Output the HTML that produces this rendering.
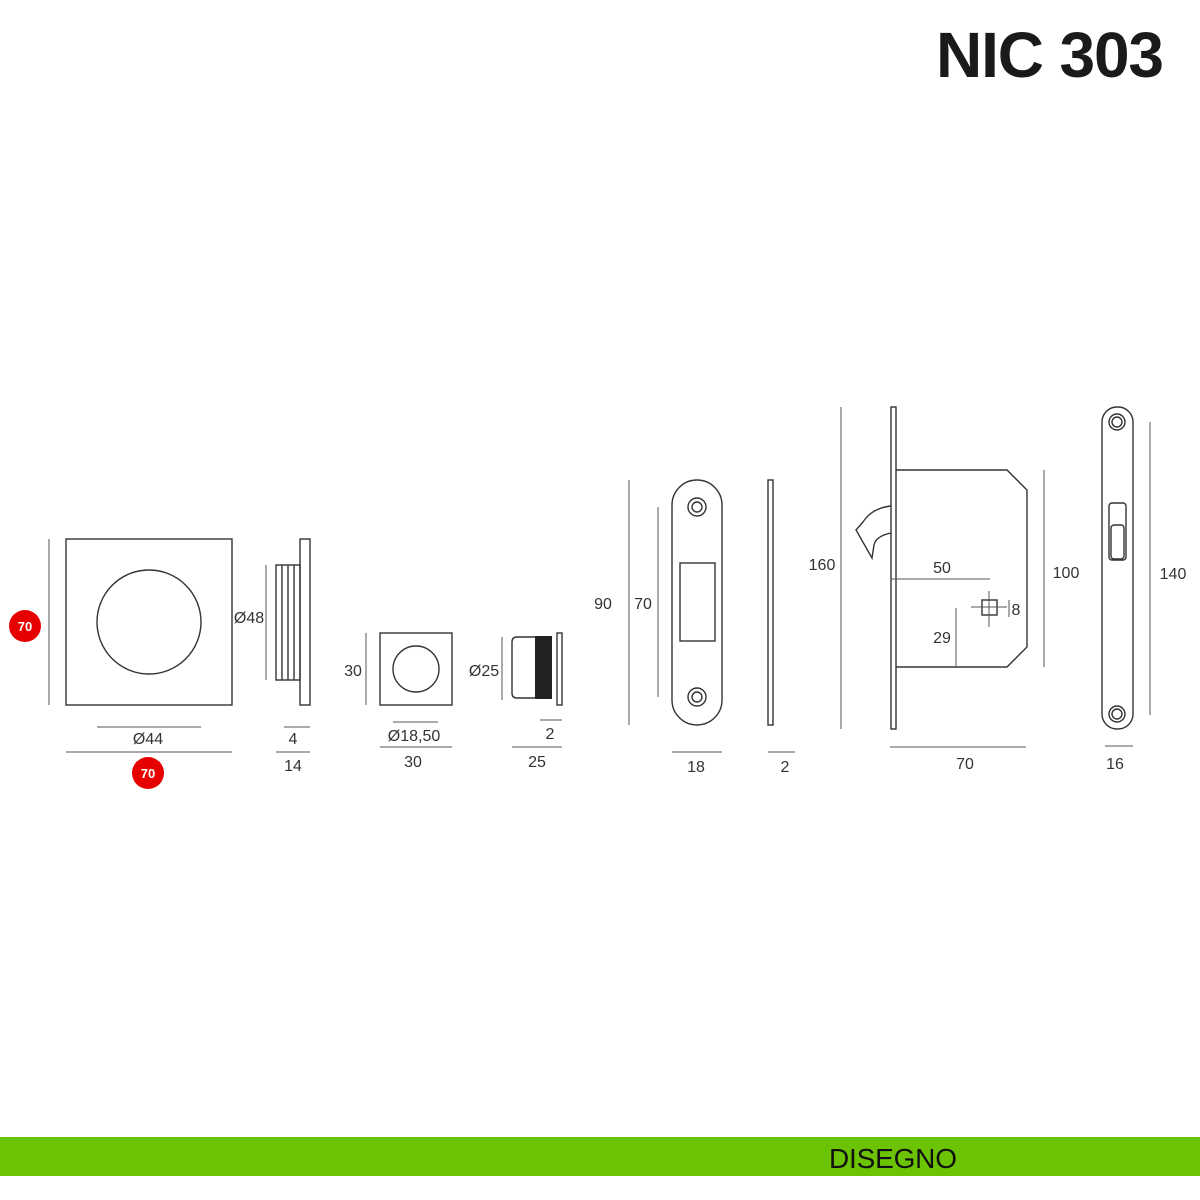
<!DOCTYPE html>
<html><head><meta charset="utf-8"><style>
html,body{margin:0;padding:0;background:#fff}
svg{display:block}
text{font-family:"Liberation Sans",sans-serif;fill:#333}
</style></head><body>
<svg width="1200" height="1200" viewBox="0 0 1200 1200" xmlns="http://www.w3.org/2000/svg">
<rect width="1200" height="1200" fill="#fff"/>
<text x="1164" y="77" text-anchor="end" font-size="64" font-weight="bold" style="fill:#1a1a1a" textLength="228">NIC 303</text>

<g fill="none" stroke="#333" stroke-width="1.4">
<!-- square rose -->
<rect x="66" y="539" width="166" height="166"/>
<circle cx="149" cy="622" r="52"/>
<rect x="300" y="539" width="10" height="166"/>
<rect x="276" y="565" width="24" height="115"/>
<line x1="282" y1="565" x2="282" y2="680"/><line x1="288" y1="565" x2="288" y2="680"/><line x1="294" y1="565" x2="294" y2="680"/>
<!-- small square -->
<rect x="380" y="633" width="72" height="72"/>
<circle cx="416" cy="669" r="23"/>
<!-- cylinder -->
<path d="M535 637 H517 Q512 637 512 642 V693 Q512 698 517 698 H535"/>
<rect x="557" y="633" width="5" height="72"/>
<!-- strike plate -->
<rect x="672" y="480" width="50" height="245" rx="25"/>
<rect x="680" y="563" width="35" height="78"/>
<circle cx="697" cy="507" r="9"/><circle cx="697" cy="507" r="5"/>
<circle cx="697" cy="697" r="9"/><circle cx="697" cy="697" r="5"/>
<rect x="768" y="480" width="5" height="245"/>
<!-- mortise lock -->
<rect x="891" y="407" width="5" height="322"/>
<path d="M896 470 H1007 L1027 490 V647 L1007 667 H896"/>
<path d="M891 506 Q872 508 863 522 L856 530 L872 558 L874 545 Q876 536 891 533"/>
<rect x="982" y="600" width="15" height="15"/>
<rect x="1102" y="407" width="31" height="322" rx="15"/>
<circle cx="1117" cy="422" r="8"/><circle cx="1117" cy="422" r="5"/>
<circle cx="1117" cy="714" r="8"/><circle cx="1117" cy="714" r="5"/>
<rect x="1109" y="503" width="17" height="57" rx="3"/>
<rect x="1111" y="525" width="13" height="34" rx="3"/>
</g>
<rect x="535" y="636" width="17" height="63" fill="#222"/>
<g stroke="#555" stroke-width="1">
<line x1="49" y1="539" x2="49" y2="705"/>
<line x1="97" y1="727" x2="201" y2="727"/>
<line x1="66" y1="752" x2="232" y2="752"/>
<line x1="266" y1="565" x2="266" y2="680"/>
<line x1="284" y1="727" x2="310" y2="727"/>
<line x1="276" y1="752" x2="310" y2="752"/>
<line x1="366" y1="633" x2="366" y2="705"/>
<line x1="393" y1="722" x2="438" y2="722"/>
<line x1="380" y1="747" x2="452" y2="747"/>
<line x1="502" y1="637" x2="502" y2="700"/>
<line x1="540" y1="720" x2="562" y2="720"/>
<line x1="512" y1="747" x2="562" y2="747"/>
<line x1="629" y1="480" x2="629" y2="725"/>
<line x1="658" y1="507" x2="658" y2="697"/>
<line x1="672" y1="752" x2="722" y2="752"/>
<line x1="768" y1="752" x2="795" y2="752"/>
<line x1="841" y1="407" x2="841" y2="729"/>
<line x1="1044" y1="470" x2="1044" y2="667"/>
<line x1="891" y1="579" x2="990" y2="579"/>
<line x1="956" y1="608" x2="956" y2="667"/>
<line x1="971" y1="607" x2="1007" y2="607"/>
<line x1="989" y1="591" x2="989" y2="627"/>
<line x1="1009" y1="600" x2="1009" y2="617"/>
<line x1="890" y1="747" x2="1026" y2="747"/>
<line x1="1150" y1="422" x2="1150" y2="715"/>
<line x1="1105" y1="746" x2="1133" y2="746"/>
</g>
<g font-size="16">
<text x="148" y="744" text-anchor="middle">Ø44</text>
<text x="249" y="623" text-anchor="middle">Ø48</text>
<text x="293" y="744" text-anchor="middle">4</text>
<text x="293" y="771" text-anchor="middle">14</text>
<text x="353" y="676" text-anchor="middle">30</text>
<text x="414" y="741" text-anchor="middle">Ø18,50</text>
<text x="413" y="767" text-anchor="middle">30</text>
<text x="484" y="676" text-anchor="middle">Ø25</text>
<text x="550" y="739" text-anchor="middle">2</text>
<text x="537" y="767" text-anchor="middle">25</text>
<text x="603" y="609" text-anchor="middle">90</text>
<text x="643" y="609" text-anchor="middle">70</text>
<text x="696" y="772" text-anchor="middle">18</text>
<text x="785" y="772" text-anchor="middle">2</text>
<text x="822" y="570" text-anchor="middle">160</text>
<text x="942" y="573" text-anchor="middle">50</text>
<text x="942" y="643" text-anchor="middle">29</text>
<text x="1016" y="615" text-anchor="middle">8</text>
<text x="1066" y="578" text-anchor="middle">100</text>
<text x="965" y="769" text-anchor="middle">70</text>
<text x="1173" y="579" text-anchor="middle">140</text>
<text x="1115" y="769" text-anchor="middle">16</text>
</g>
<circle cx="25" cy="626" r="16" fill="#e60000"/>
<text x="25" y="631" text-anchor="middle" font-size="13" font-weight="bold" style="fill:#fff">70</text>
<circle cx="148" cy="773" r="16" fill="#e60000"/>
<text x="148" y="778" text-anchor="middle" font-size="13" font-weight="bold" style="fill:#fff">70</text>
<rect x="0" y="1137" width="1200" height="39" fill="#6cc304"/>
<text x="829" y="1168" font-size="28" style="fill:#111" textLength="128">DISEGNO</text>
</svg>
</body></html>
